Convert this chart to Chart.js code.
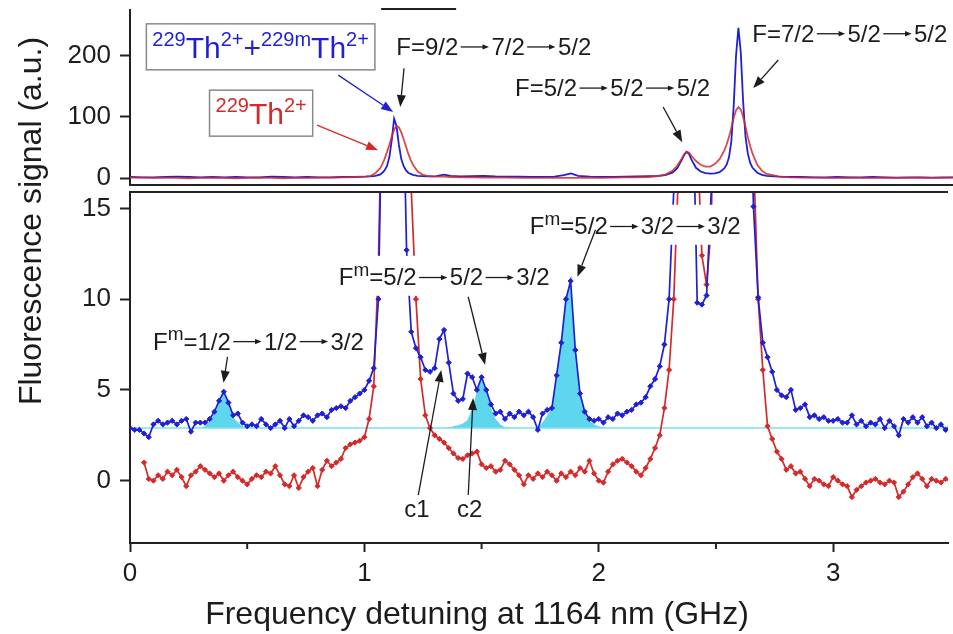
<!DOCTYPE html>
<html><head><meta charset="utf-8">
<script src="https://cdn.jsdelivr.net/npm/chart.js@4"></script>
<style>
html,body{margin:0;padding:0;background:#fff;}
#wrap{position:relative;width:953px;height:634px;overflow:hidden;background:#fff;}
canvas{position:absolute;left:0;top:0;}
</style></head><body>
<div id="wrap"><canvas id="cb" width="953" height="634"></canvas><canvas id="ct" width="953" height="634"></canvas></div>
<script>
// ---------------- DATA ----------------
// Overview panel (top)
const topX = [0,0.05,0.10,0.15,0.20,0.25,0.30,0.35,0.40,0.45,0.50,0.55,0.60,0.65,0.70,0.75,0.80,0.85,0.90,0.95,1.00,
  1.02,1.04,1.06,1.07,1.08,1.09,1.10,1.11,1.12,1.13,1.14,1.15,1.16,1.17,1.18,1.19,1.20,1.22,1.24,1.26,1.28,1.30,1.33,1.36,
  1.40,1.45,1.50,1.55,1.60,1.65,1.70,1.75,1.80,1.84,1.87,1.90,1.95,2.00,2.05,2.10,2.15,2.20,2.24,2.27,2.30,2.32,2.34,
  2.35,2.36,2.37,2.38,2.40,2.42,2.44,2.46,2.48,2.50,2.52,2.53,2.54,2.55,2.56,2.57,2.58,2.59,2.60,2.61,2.62,2.63,2.64,
  2.66,2.68,2.70,2.75,2.80,2.85,2.90,2.95,3.00,3.05,3.10,3.15,3.20,3.25,3.30,3.35,3.40,3.45,3.50];
const topBlue = [2,1.5,1.5,2,2.5,2,1.5,2,1.5,2,1.5,1.5,2.5,2,1.5,2,1.5,1.5,2,2,2.5,
  3,4,6,9,13,20,35,62,97,85,55,32,20,13,9,7,5.5,4,3.5,3,3,3.5,6,4,
  3,3.5,4,3,2.5,2.5,2,2,2.5,5,8,4,2.5,2,2,2.5,3,3.5,4,5,9,16,30,
  38,43,40,31,17,11,8.5,7.5,8,10,16,22,34,60,118,200,245,205,125,68,40,25,17,
  9,5.5,4,2.5,2,2,1.5,1.5,2,1.5,1.5,2,1.5,1,1.5,1.5,1,1.5,1.5];
const topRed = [1,1,0.5,1,0.5,0,0.5,1,0.5,0,0.5,1,0.5,0,0.5,0.5,1,1,1.5,2,3,
  4,8,16,23,32,43,55,68,79,85,83,75,64,52,40,30,22,11,6,4,3,2.5,2.5,2,
  1.5,1.5,1,1,1,0.5,0.5,0.5,0.5,0.5,0.5,0.5,1,0.5,1,1.5,1.5,2,3.5,6,12,20,32,
  39,43,42,37,28,22,19,19,23,31,45,55,67,82,98,111,116,112,100,84,67,52,40,
  22,12,7,3,1.5,1,1,0.5,0.5,1,0.5,0.5,1,0.5,0.5,1,0.5,0.5,1];

// Zoomed panel (bottom)
const bottomX = [0.00,0.02,0.04,0.06,0.08,0.10,0.12,0.14,0.16,0.18,
  0.20,0.22,0.24,0.26,0.28,0.30,0.32,0.34,0.36,0.38,
  0.40,0.42,0.44,0.46,0.48,0.50,0.52,0.54,0.56,0.58,
  0.60,0.62,0.64,0.66,0.68,0.70,0.72,0.74,0.76,0.78,
  0.80,0.82,0.84,0.86,0.88,0.90,0.92,0.94,0.96,0.98,
  1.00,1.02,1.04,1.06,1.08,1.10,1.12,1.14,1.16,1.18,
  1.20,1.22,1.24,1.26,1.28,1.30,1.32,1.34,1.36,1.38,
  1.40,1.42,1.44,1.46,1.48,1.50,1.52,1.54,1.56,1.58,
  1.60,1.62,1.64,1.66,1.68,1.70,1.72,1.74,1.76,1.78,
  1.80,1.82,1.84,1.86,1.88,1.90,1.92,1.94,1.96,1.98,
  2.00,2.02,2.04,2.06,2.08,2.10,2.12,2.14,2.16,2.18,
  2.20,2.22,2.24,2.26,2.28,2.30,2.32,2.34,2.36,2.38,
  2.40,2.42,2.44,2.46,2.48,2.50,2.52,2.54,2.56,2.58,
  2.60,2.62,2.64,2.66,2.68,2.70,2.72,2.74,2.76,2.78,
  2.80,2.82,2.84,2.86,2.88,2.90,2.92,2.94,2.96,2.98,
  3.00,3.02,3.04,3.06,3.08,3.10,3.12,3.14,3.16,3.18,
  3.20,3.22,3.24,3.26,3.28,3.30,3.32,3.34,3.36,3.38,
  3.40,3.42,3.44,3.46,3.48,3.50];
const blueBottom = [2.9,2.8,2.8,2.6,2.4,3.1,3.3,3.1,3.2,3.3,
  3.1,3.3,3.4,2.7,3.2,3.2,3.2,3.4,3.8,4.4,
  4.9,4.3,3.6,3.7,3.2,3.0,3.1,3.0,3.4,3.1,
  2.9,3.1,3.3,2.9,3.4,3.0,3.3,3.6,3.5,3.3,
  3.6,3.7,3.5,3.9,4.0,4.1,4.0,4.4,4.6,4.8,
  5.0,5.5,6.2,10.0,25,60,100,55,25,12.7,
  8.2,7.3,6.8,6.1,6.0,6.2,7.8,8.3,6.5,4.8,
  4.4,4.5,5.9,5.7,5.0,5.7,5.0,4.2,3.7,3.8,
  3.4,3.7,3.5,3.8,3.6,3.8,3.5,2.8,3.7,3.9,
  4.0,5.8,7.6,10.0,11.0,7.2,4.8,3.8,3.4,3.3,
  3.4,3.2,3.5,3.4,3.7,3.6,3.8,3.9,4.2,4.3,
  4.6,5.2,5.6,6.3,7.5,10.0,16,30,45,30,
  22,9.8,9.7,10.2,16,20,35,80,150,245,
  150,60,25,15.1,10.1,7.6,6.8,6.0,5.0,4.7,
  4.6,5.0,3.9,4.0,4.2,3.5,3.6,3.4,3.5,3.3,
  3.3,3.4,3.2,3.2,3.6,3.1,3.3,3.0,3.2,3.1,
  3.4,2.9,3.3,3.0,2.5,3.4,3.2,3.5,3.2,3.5,
  3.0,3.2,2.9,3.1,2.8,3.0];
const redBottom = [null,null,null,1.0,0.1,0.0,0.3,0.1,0.5,0.3,
  0.6,0.2,-0.3,0.3,0.5,0.8,0.6,0.4,0.2,0.4,
  0.0,0.3,0.5,0.2,0.0,-0.2,0.1,0.3,0.2,0.5,
  0.4,0.8,0.3,-0.2,-0.3,0.3,-0.4,0.2,0.5,0.7,
  -0.3,0.6,1.1,0.8,1.0,1.2,1.8,2.0,2.1,2.2,
  2.4,3.4,5.2,12,25,45,70,72,48,28,
  16,10,5.6,3.6,2.9,2.5,2.3,2.1,1.8,1.5,
  1.25,1.2,1.4,1.5,1.6,0.9,0.7,0.8,0.5,0.6,
  1.1,0.9,0.6,0.3,-0.2,0.3,0.1,0.4,0.2,0.5,
  0.3,0.0,0.4,0.2,0.5,0.3,0.7,0.5,1.1,0.4,
  0.0,-0.1,0.5,0.9,1.1,1.2,1.0,0.8,0.5,0.3,
  0.7,1.2,1.8,2.5,4.0,6.1,10,17,44,35,
  26,19,12.4,10.8,14,30,47,70,100,117,
  100,67,40,18,10,6.1,3.0,2.3,1.6,1.2,
  0.6,0.8,0.4,0.5,0.1,-0.3,0.1,0.0,-0.2,-0.3,
  0.2,0.0,-0.2,-0.3,-0.9,-0.5,-0.3,-0.1,0.0,0.1,
  -0.1,-0.2,0.0,-0.1,-0.9,-0.6,-0.2,0.2,0.4,0.1,
  -0.3,0.1,0.0,-0.1,0.1,0.0];
// Fitted metastable-line profiles (cyan), null separates the peaks
const fitX = [0.30,0.32,0.34,0.36,0.38,0.40,0.42,0.44,0.46,0.48,0.50, 0.9,
  1.34,1.36,1.38,1.40,1.42,1.44,1.46,1.48,1.50,1.52,1.54,1.56,1.58,1.60,1.62, 1.67,
  1.72,1.74,1.76,1.78,1.80,1.82,1.84,1.86,1.88,1.90,1.92,1.94,1.96,1.98,2.00,2.02,2.04];
const fitY = [2.9,3.0,3.3,3.7,4.3,4.8,4.2,3.5,3.2,3.0,2.9, null,
  2.9,2.95,3.0,3.05,3.15,3.35,4.0,4.9,5.6,4.9,4.0,3.4,3.1,2.95,2.9, null,
  2.9,2.95,3.2,3.6,4.0,5.6,7.5,9.9,10.9,7.2,4.8,3.7,3.3,3.1,3.0,2.95,2.9];
const cyanBaseline = 2.9;

const xTicks = [0,1,2,3];
const xMinorTicks = [0.5,1.5,2.5];
const topYTicks = [0,100,200];
const bottomYTicks = [0,5,10,15];

// ---------------- STYLE ----------------
const FAM = '"Liberation Sans", Arial, Helvetica, sans-serif';
const COL = {blue:'#1f1fd4', red:'#d42a2a', cyan:'#78e2ee', fill:'#5ed7ee', ink:'#1c1c1c', box:'#8a8a8a'};
const ARW = '\u2192';
const ARW_ADV = 1.38; // advance of the long transition arrow, in em

function pts(xs, ys){ return xs.map((x,i)=>({x:x, y:ys[i]})); }

// measure / draw a run of plain text where "→" is drawn as a long thin arrow
function runWidth(ctx, t, fs){
  const segs=t.split(ARW); let w=0;
  segs.forEach((s,i)=>{ w+=ctx.measureText(s).width; if(i<segs.length-1) w+=ARW_ADV*fs; });
  return w;
}
function runDraw(ctx, t, x, base, fs, color){
  const segs=t.split(ARW);
  segs.forEach((s,i)=>{
    ctx.fillText(s, x, base); x+=ctx.measureText(s).width;
    if(i<segs.length-1){
      const y=base-0.33*fs, x1=x+0.1*fs, x2=x+(ARW_ADV-0.1)*fs;
      ctx.save(); ctx.strokeStyle=color; ctx.fillStyle=color; ctx.lineWidth=1.3;
      ctx.beginPath(); ctx.moveTo(x1,y); ctx.lineTo(x2-0.2*fs,y); ctx.stroke();
      ctx.beginPath(); ctx.moveTo(x2,y); ctx.lineTo(x2-0.27*fs,y-0.11*fs); ctx.lineTo(x2-0.27*fs,y+0.11*fs); ctx.closePath(); ctx.fill();
      ctx.restore();
      x+=ARW_ADV*fs;
    }
  });
  return x;
}
function richWidth(ctx, parts, size, sup){
  let w=0; for(const [t,s] of parts){ const fs=s?Math.round(size*sup):size; ctx.font=fs+'px '+FAM; w+=runWidth(ctx,t,fs); } return w;
}
function richDraw(ctx, parts, x, yMid, size, color, sup){
  ctx.fillStyle=color; ctx.textAlign='left'; ctx.textBaseline='alphabetic';
  const base = yMid + size*0.36;
  for(const [t,s] of parts){
    const fs = s?Math.round(size*sup):size;
    ctx.font = fs+'px '+FAM;
    ctx.fillStyle=color;
    x = runDraw(ctx, t, x, s ? base - size*0.40 : base, fs, color);
  }
}
function drawArrow(ctx, x1,y1,x2,y2,color,lw){
  const a=Math.atan2(y2-y1,x2-x1), hl=12, hw=4.5;
  const bx=x2-hl*Math.cos(a), by=y2-hl*Math.sin(a);
  ctx.save(); ctx.strokeStyle=color; ctx.fillStyle=color; ctx.lineWidth=lw||1.3;
  ctx.beginPath(); ctx.moveTo(x1,y1); ctx.lineTo(bx,by); ctx.stroke();
  ctx.beginPath(); ctx.moveTo(x2,y2);
  ctx.lineTo(bx+hw*Math.sin(a), by-hw*Math.cos(a));
  ctx.lineTo(bx-hw*Math.sin(a), by+hw*Math.cos(a));
  ctx.closePath(); ctx.fill(); ctx.restore();
}
function annoPlugin(labels, arrows, extra){
  return {id:'anno', afterDraw(chart){
    const ctx=chart.ctx, xs=chart.scales.x, ys=chart.scales.y;
    ctx.save();
    if(extra) extra(chart, ctx);
    for(const L of labels){
      const sup=L.sup||0.66;
      const w=richWidth(ctx, L.parts, L.size, sup);
      const px=xs.getPixelForValue(L.x), py=ys.getPixelForValue(L.y);
      const left = L.align==='center' ? px-w/2 : px;
      if(L.box){
        ctx.fillStyle='#fff'; ctx.fillRect(left-6, py-23, w+12, 46);
        ctx.strokeStyle=COL.box; ctx.lineWidth=1.5; ctx.strokeRect(left-6, py-23, w+12, 46);
      } else if(L.bg){
        ctx.fillStyle='#fff'; ctx.fillRect(left-4, py-21, w+8, 40);
      }
      richDraw(ctx, L.parts, left, py, L.size, L.color, sup);
    }
    for(const A of arrows){
      drawArrow(ctx, xs.getPixelForValue(A.from[0]), ys.getPixelForValue(A.from[1]),
        xs.getPixelForValue(A.to[0]), ys.getPixelForValue(A.to[1]), A.color);
    }
    ctx.restore();
  }};
}
function noPad(s){ s.paddingTop=0; s.paddingBottom=0; s.paddingLeft=0; s.paddingRight=0; }

const topLabels = [
  {parts:[['229',1],['Th',0],['2+',1],['+',0],['229m',1],['Th',0],['2+',1]], x:0.554, y:214, size:30, color:COL.blue, align:'center', box:true, sup:0.66},
  {parts:[['229',1],['Th',0],['2+',1]], x:0.556, y:106, size:30, color:COL.red, align:'center', box:true, sup:0.66},
  {parts:[['F=9/2'+ARW+'7/2'+ARW+'5/2',0]], x:1.129, y:215, size:24, color:COL.ink},
  {parts:[['F=5/2'+ARW+'5/2'+ARW+'5/2',0]], x:1.633, y:148, size:24, color:COL.ink},
  {parts:[['F=7/2'+ARW+'5/2'+ARW+'5/2',0]], x:2.639, y:236.5, size:24, color:COL.ink}
];
const topArrows = [
  {from:[0.883,168], to:[1.116,108], color:COL.blue},
  {from:[0.793,86.5], to:[1.052,45.7], color:COL.red},
  {from:[1.162,179], to:[1.146,116], color:COL.ink},
  {from:[2.261,116], to:[2.342,58.7], color:COL.ink},
  {from:[2.749,192.5], to:[2.643,146.8], color:COL.ink}
];
const bottomLabels = [
  {parts:[['F',0],['m',1],['=1/2'+ARW+'1/2'+ARW+'3/2',0]], x:0.098, y:7.7, size:24, color:COL.ink, bg:true, sup:0.8},
  {parts:[['F',0],['m',1],['=5/2'+ARW+'5/2'+ARW+'3/2',0]], x:0.891, y:11.23, size:24, color:COL.ink, bg:true, sup:0.8},
  {parts:[['F',0],['m',1],['=5/2'+ARW+'3/2'+ARW+'3/2',0]], x:1.706, y:14.04, size:24, color:COL.ink, bg:true, sup:0.8},
  {parts:[['c1',0]], x:1.224, y:-1.5, size:24, color:COL.ink, align:'center'},
  {parts:[['c2',0]], x:1.449, y:-1.5, size:24, color:COL.ink, align:'center'}
];
const bottomArrows = [
  {from:[0.416,6.82], to:[0.399,5.39], color:COL.ink},
  {from:[1.443,10.13], to:[1.515,6.38], color:COL.ink},
  {from:[1.986,13.82], to:[1.909,11.23], color:COL.ink},
  {from:[1.230,-0.79], to:[1.328,6.1], color:COL.ink},
  {from:[1.443,-0.79], to:[1.464,4.56], color:COL.ink}
];

const tickFont = {family:FAM, size:26};

// ---------------- BOTTOM (zoomed) CHART ----------------
new Chart(document.getElementById('cb'), {
  type:'line',
  data:{datasets:[
    {label:'229Th2+ + 229mTh2+', data:pts(bottomX, blueBottom), borderColor:COL.blue, backgroundColor:COL.blue,
      borderWidth:1.7, pointRadius:2.6, pointStyle:'rectRot', pointBorderWidth:1, pointBorderColor:COL.blue, pointBackgroundColor:COL.blue, order:0},
    {label:'229Th2+', data:pts(bottomX, redBottom), borderColor:COL.red, backgroundColor:COL.red,
      borderWidth:1.7, pointRadius:2.6, pointStyle:'rectRot', pointBorderWidth:1, pointBorderColor:COL.red, pointBackgroundColor:COL.red, order:1},
    {label:'baseline', data:[{x:0,y:cyanBaseline},{x:3.5,y:cyanBaseline}], borderColor:COL.cyan, borderWidth:1.6, pointRadius:0, order:2},
    {label:'fit', data:pts(fitX, fitY), borderColor:'rgba(0,0,0,0)', borderWidth:0, pointRadius:0, spanGaps:false,
      backgroundColor:COL.fill, fill:{value:cyanBaseline}, order:3}
  ]},
  options:{
    responsive:false, animation:false, events:[],
    layout:{padding:{top:192, left:0, right:0, bottom:0}},
    plugins:{legend:{display:false}, tooltip:{enabled:false}, title:{display:false}},
    scales:{
      x:{type:'linear', min:0, max:3.49,
        afterBuildTicks(s){ s.ticks = xTicks.map(v=>({value:v})); },
        afterFit(s){ s.height = 91; noPad(s); },
        ticks:{font:tickFont, color:COL.ink, padding:6, maxRotation:0},
        grid:{display:true, drawOnChartArea:false, drawTicks:true, tickLength:9, tickWidth:2, tickColor:'#222'},
        border:{display:true, color:'#222', width:2}},
      y:{type:'linear', min:-3.43, max:15.9,
        afterBuildTicks(s){ s.ticks = bottomYTicks.map(v=>({value:v})); },
        afterFit(s){ s.width = 130; noPad(s); },
        ticks:{font:tickFont, color:COL.ink, padding:9},
        grid:{display:true, drawOnChartArea:false, drawTicks:true, tickLength:10, tickWidth:2, tickColor:'#222'},
        border:{display:true, color:'#222', width:2}}
    }
  },
  plugins:[annoPlugin(bottomLabels, bottomArrows, function(chart, ctx){
    const a=chart.chartArea, xs=chart.scales.x;
    ctx.strokeStyle='#222'; ctx.lineWidth=2;
    ctx.beginPath(); ctx.moveTo(a.left-1, a.top); ctx.lineTo(a.right, a.top); ctx.stroke();
    for(const v of xMinorTicks){ const p=xs.getPixelForValue(v); ctx.beginPath(); ctx.moveTo(p, a.bottom); ctx.lineTo(p, a.bottom+6); ctx.stroke(); }
    ctx.fillStyle=COL.ink; ctx.textAlign='center'; ctx.textBaseline='alphabetic';
    ctx.font='32px '+FAM;
    ctx.fillText('Frequency detuning at 1164 nm (GHz)', 477, 624);
    ctx.save(); ctx.translate(41, 221); ctx.rotate(-Math.PI/2);
    ctx.fillText('Fluorescence signal (a.u.)', 0, 0);
    ctx.restore();
  })]
});

// ---------------- TOP (overview) CHART ----------------
new Chart(document.getElementById('ct'), {
  type:'line',
  data:{datasets:[
    {label:'229Th2+', data:pts(topX, topRed), borderColor:'rgba(212,42,42,0.85)', borderWidth:1.8, pointRadius:0, order:0},
    {label:'229Th2+ + 229mTh2+', data:pts(topX, topBlue), borderColor:COL.blue, borderWidth:1.8, pointRadius:0, order:1}
  ]},
  options:{
    responsive:false, animation:false, events:[],
    layout:{padding:{top:10, left:0, right:0, bottom:449}},
    plugins:{legend:{display:false}, tooltip:{enabled:false}, title:{display:false}},
    scales:{
      x:{type:'linear', min:0, max:3.49, afterFit(s){ s.height = 0; noPad(s); },
        ticks:{display:false}, grid:{display:false}, border:{display:true, color:'#222', width:2}},
      y:{type:'linear', min:-11, max:274,
        afterBuildTicks(s){ s.ticks = topYTicks.map(v=>({value:v})); },
        afterFit(s){ s.width = 130; noPad(s); },
        ticks:{font:tickFont, color:COL.ink, padding:9},
        grid:{display:true, drawOnChartArea:false, drawTicks:true, tickLength:10, tickWidth:2, tickColor:'#222'},
        border:{display:true, color:'#222', width:2}}
    }
  },
  plugins:[annoPlugin(topLabels, topArrows, function(chart, ctx){
    const a=chart.chartArea, xs=chart.scales.x;
    ctx.strokeStyle='#222'; ctx.lineWidth=2;
    ctx.beginPath(); ctx.moveTo(xs.getPixelForValue(1.065), a.top-1); ctx.lineTo(xs.getPixelForValue(1.383), a.top-1); ctx.stroke();
  })]
});
</script>
</body></html>
